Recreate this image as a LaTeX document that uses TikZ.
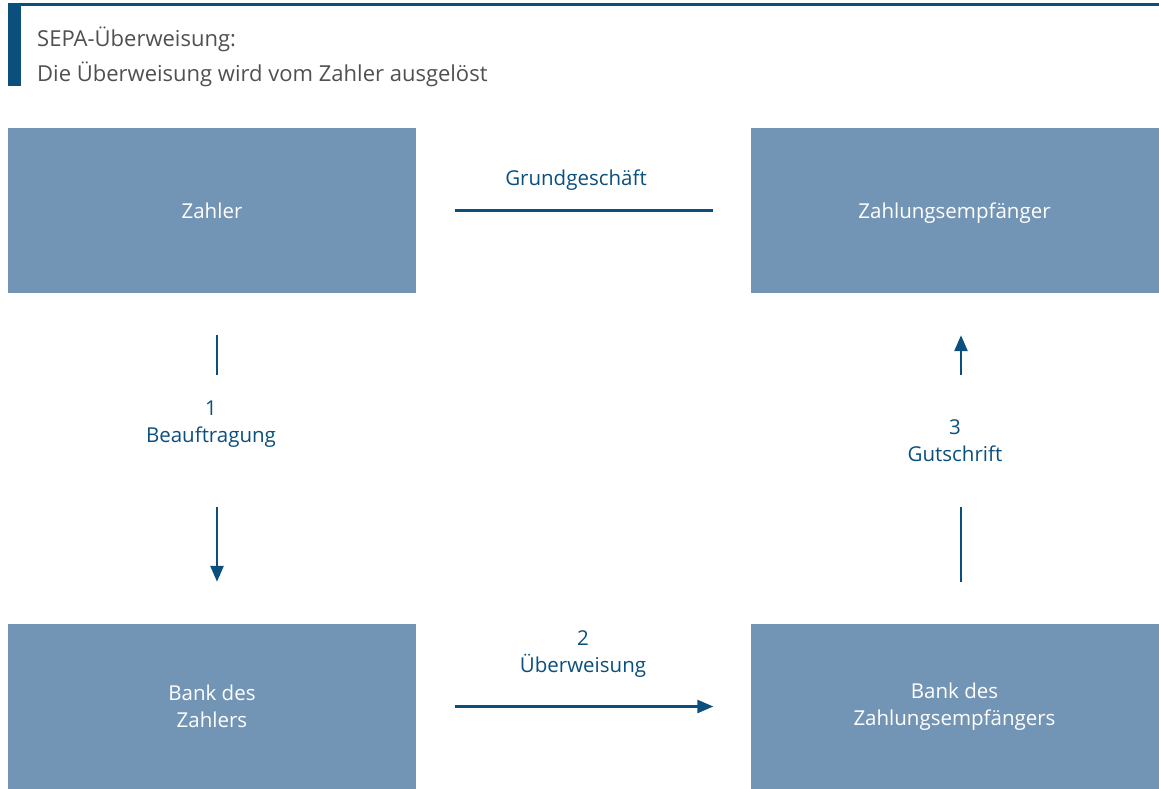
\documentclass[tikz,border=0pt]{standalone}
\usepackage{fontspec}
\setmainfont{Open Sans}
\usetikzlibrary{arrows.meta}
\definecolor{boxblue}{HTML}{7395B5}
\definecolor{linblue}{HTML}{0B4F7C}
\definecolor{txtgrey}{HTML}{505050}

\begin{document}
\begin{tikzpicture}
      [x=1pt,y=1pt
      ,box/.style={fill=boxblue,minimum width=408pt,minimum height=165pt,inner sep=0pt,text=white,align=center,font=\fontsize{20.5}{27}\selectfont}
      ,lin/.style={color=linblue,line width=2.6pt}
      ,arr/.style={lin,-{Triangle[width=13pt,length=16pt]}}
      ,lab/.style={text=linblue,align=center,font=\fontsize{20.5}{27}\selectfont}
      ,head/.style={text=txtgrey,anchor=base west,inner sep=0pt,font=\fontsize{22}{25}\selectfont}
      ]
        \useasboundingbox (0,0) rectangle (1159,-789);
        % header
        \fill[linblue] (8,-3.5) rectangle (1159,-6);
        \fill[linblue] (8,-3.5) rectangle (21,-86);
        \node[head] (titel) at (37,-47) {SEPA-Überweisung:};
        \node[head] (untertitel) at (37,-82) {Die Überweisung wird vom Zahler ausgelöst};

        % boxes
        \node[box] (zahler) at (212,-210.5) {Zahler};
        \node[box,text depth=0pt] (empf) at (954.5,-210.5) {Zahlungsempfänger};
        \node[box] (bankz) at (212,-706.5) {Bank des\\Zahlers};
        \node[box] (banke) at (954.5,-706.5) {Bank des\\Zahlungsempfängers};

        % labels
        \node[lab] (grund) at (576,-180) {Grundgeschäft};
        \node[lab] (auftrag) at (211,-424) {1\\Beauftragung};
        \node[lab] (ueber) at (583,-654) {2\\Überweisung};
        \node[lab] (gut) at (955,-441) {3\\Gutschrift};

        % connectors
        \draw[lin] ([xshift=39pt]zahler.east) -- ([xshift=-37pt]empf.west);
        \draw[lin] ([xshift=5pt,yshift=-42pt]zahler.south) -- ([xshift=5pt,yshift=-82pt]zahler.south);
        \draw[arr] ([xshift=5pt,yshift=117pt]bankz.north) -- ([xshift=5pt,yshift=42pt]bankz.north);
        \draw[arr] ([xshift=39pt]bankz.east) -- ([xshift=-37pt]banke.west);
        \draw[lin] ([xshift=6.5pt,yshift=42pt]banke.north) -- ([xshift=6.5pt,yshift=117pt]banke.north);
        \draw[arr] ([xshift=6.5pt,yshift=-82pt]empf.south) -- ([xshift=6.5pt,yshift=-42pt]empf.south);

      \end{tikzpicture}
\end{document}
